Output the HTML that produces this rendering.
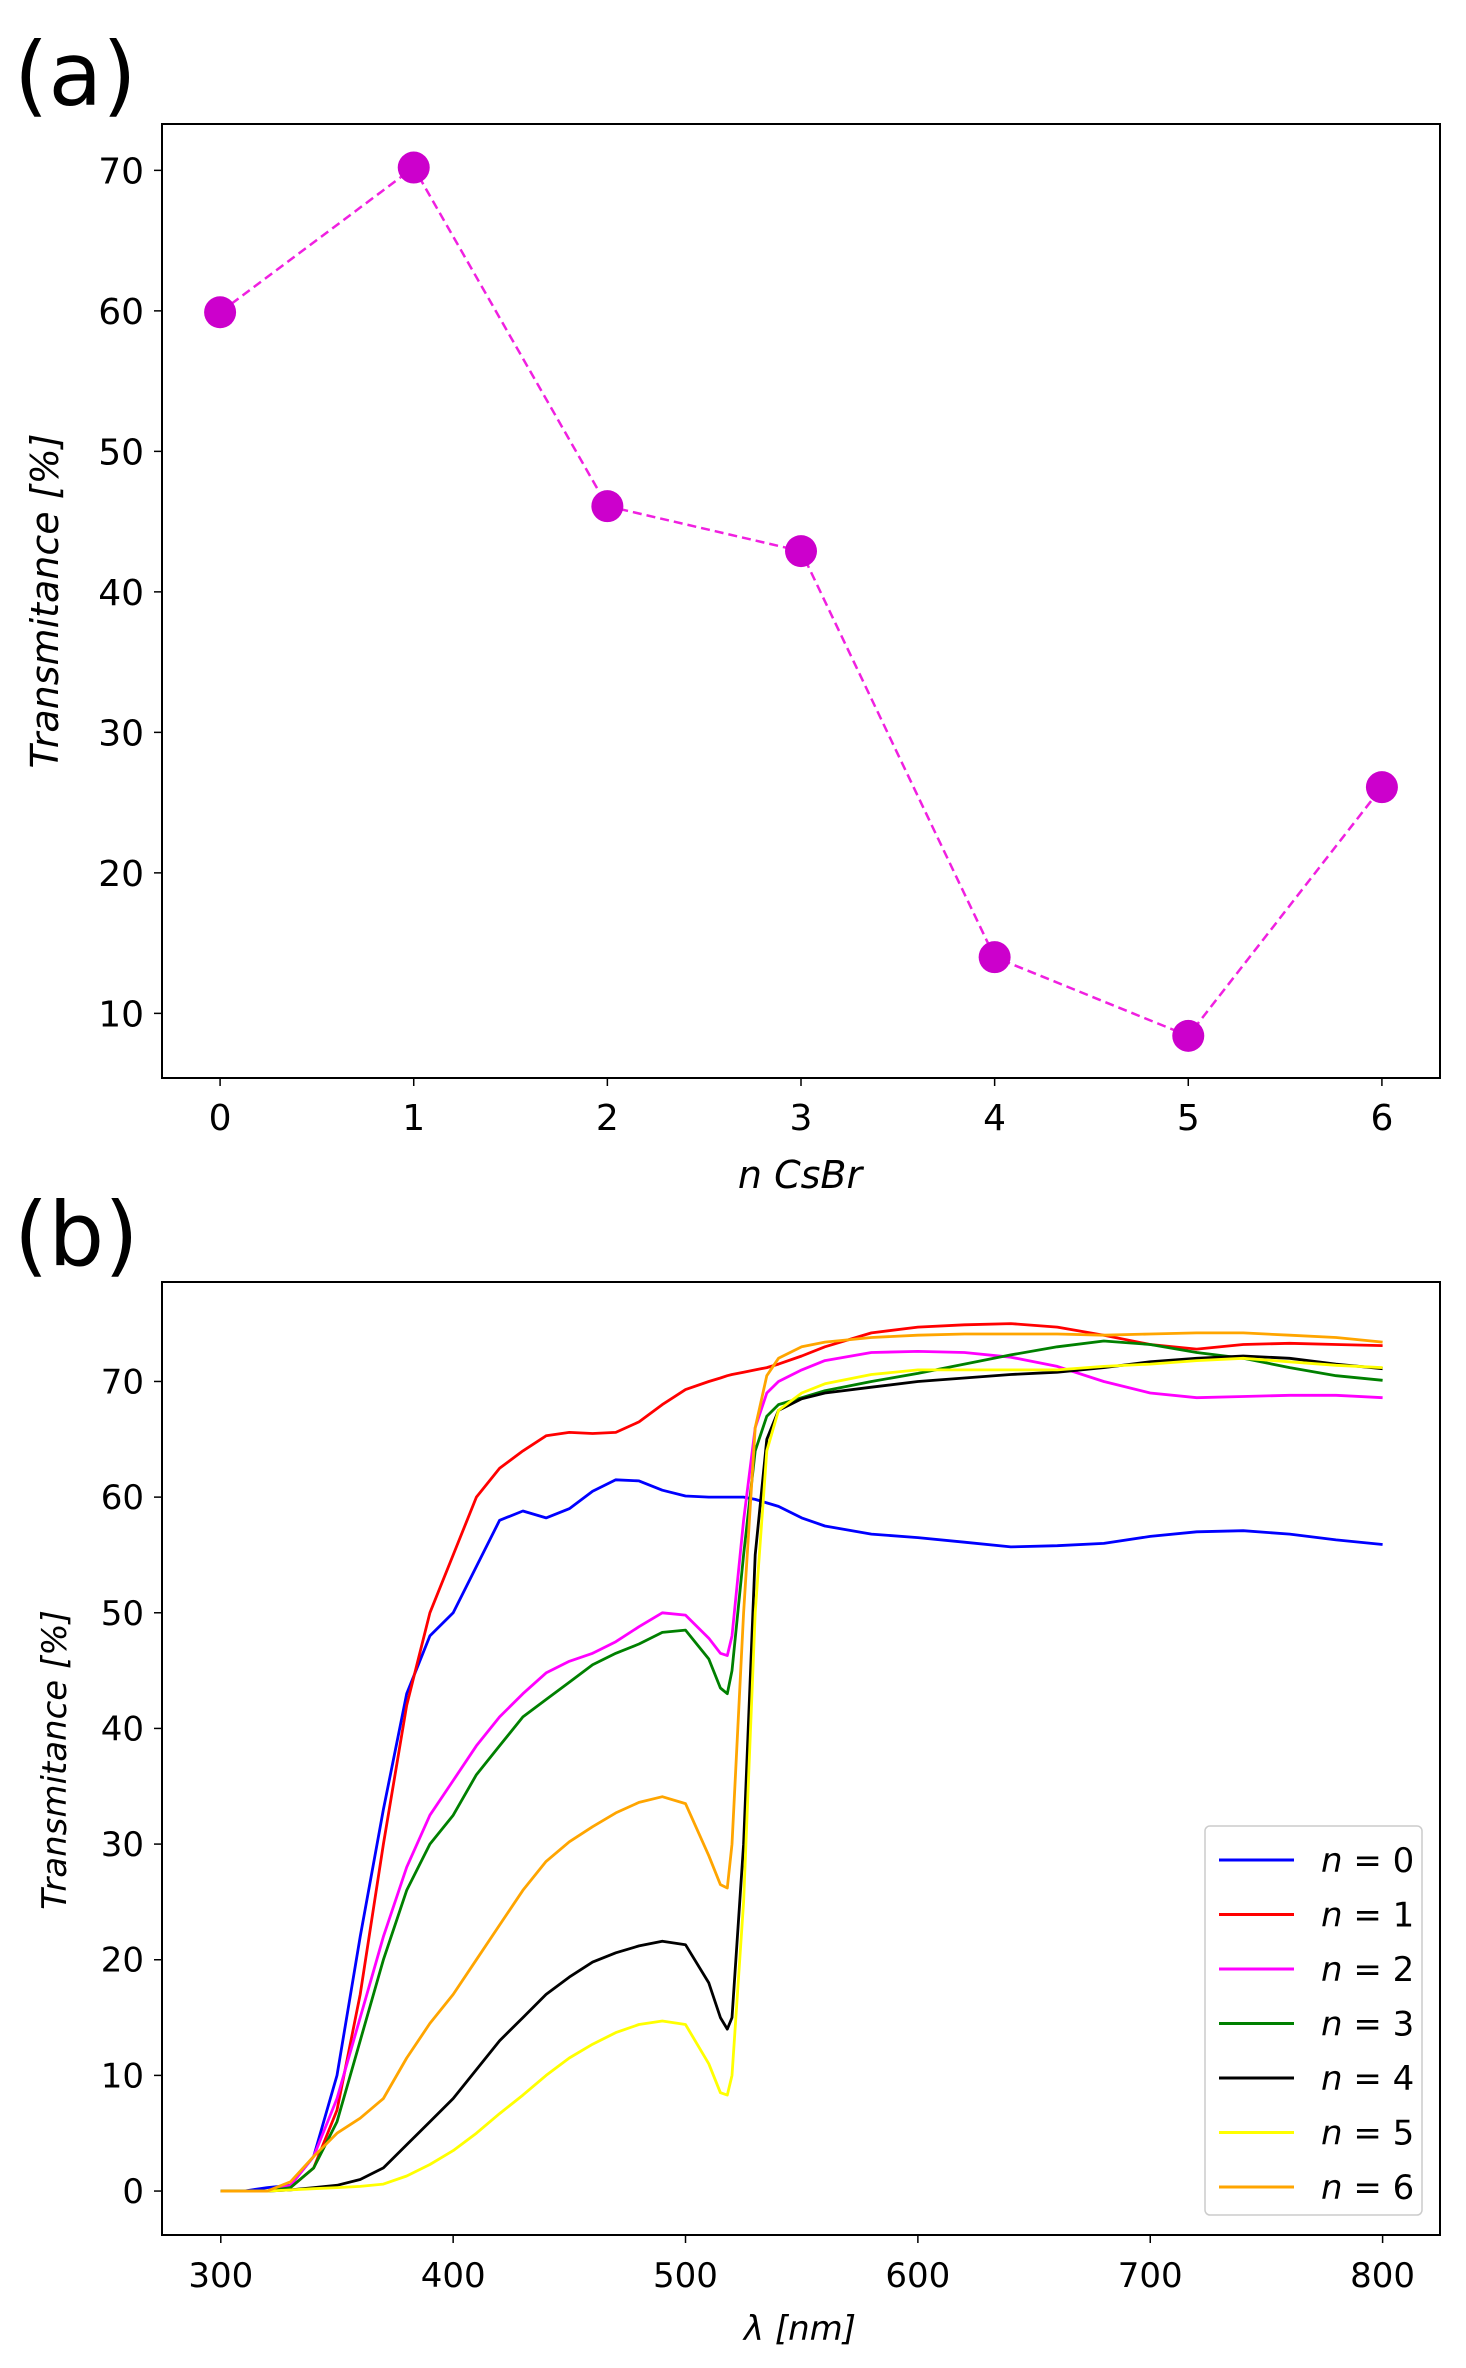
<!DOCTYPE html>
<html><head><meta charset="utf-8"><style>
html,body{margin:0;padding:0;background:#fff}
svg{display:block}
text{font-family:"DejaVu Sans","Liberation Sans",sans-serif;fill:#000}
</style></head><body>
<svg id="fig" width="1466" height="2368" viewBox="0 0 1466 2368" xmlns="http://www.w3.org/2000/svg">
<text x="14" y="105" font-size="88">(a)</text>
<text x="14" y="1265" font-size="88">(b)</text>
<g id="pa"></g>
<g id="pb"></g>
</svg>
<script>
const aCategories=[0,1,2,3,4,5,6];
const aValues=[59.9,70.2,46.1,42.9,14.0,8.4,26.1];
const aYTicks=[10,20,30,40,50,60,70];

const wavelengths=[300,310,320,330,340,350,360,370,380,390,400,410,420,430,440,450,460,470,480,490,500,510,515,518,520,525,530,535,540,550,560,580,600,620,640,660,680,700,720,740,760,780,800];
const tN0=[0,0,0.3,0.5,3,10,22,33,43,48,50,54,58,58.8,58.2,59,60.5,61.5,61.4,60.6,60.1,60,60,60,60,60,59.8,59.5,59.2,58.2,57.5,56.8,56.5,56.1,55.7,55.8,56,56.6,57,57.1,56.8,56.3,55.9];
const tN1=[0,0,0,0.3,2,7,17,30,42,50,55,60,62.5,64,65.3,65.6,65.5,65.6,66.5,68,69.3,70,70.3,70.5,70.6,70.8,71,71.2,71.5,72.2,73,74.2,74.7,74.9,75,74.7,74,73.2,72.8,73.2,73.3,73.2,73.1];
const tN2=[0,0,0,0.5,3,8,15,22,28,32.5,35.5,38.5,41,43,44.8,45.8,46.5,47.5,48.8,50,49.8,47.8,46.5,46.3,48,58,66,69,70,71,71.8,72.5,72.6,72.5,72.1,71.3,70,69,68.6,68.7,68.8,68.8,68.6];
const tN3=[0,0,0,0.3,2,6,13,20,26,30,32.5,36,38.5,41,42.5,44,45.5,46.5,47.3,48.3,48.5,46,43.5,43,45,55,64,67,68,68.6,69.2,70,70.7,71.5,72.3,73,73.5,73.2,72.5,72,71.2,70.5,70.1];
const tN4=[0,0,0,0.1,0.3,0.5,1,2,4,6,8,10.5,13,15,17,18.5,19.8,20.6,21.2,21.6,21.3,18,15,14,15,30,55,65,67.5,68.5,69,69.5,70,70.3,70.6,70.8,71.2,71.7,72,72.2,72,71.5,71.1];
const tN5=[0,0,0,0.1,0.2,0.3,0.4,0.6,1.3,2.3,3.5,5,6.7,8.3,10,11.5,12.7,13.7,14.4,14.7,14.4,11,8.5,8.3,10,25,50,64,67.5,69,69.8,70.6,71,71,71,71,71.3,71.5,71.8,72,71.7,71.4,71.2];
const tN6=[0,0,0,0.8,3,5,6.3,8,11.5,14.5,17,20,23,26,28.5,30.2,31.5,32.7,33.6,34.1,33.5,29,26.5,26.2,30,50,66,70.5,72,73,73.4,73.8,74,74.1,74.1,74.1,74,74.1,74.2,74.2,74,73.8,73.4];
const seriesLabels=["0","1","2","3","4","5","6"];
const bXTicks=[300,400,500,600,700,800];
const bYTicks=[0,10,20,30,40,50,60,70];

const NS="http://www.w3.org/2000/svg";
function mk(parent,tag,attrs,txt){const e=document.createElementNS(NS,tag);for(const k in attrs)e.setAttribute(k,attrs[k]);if(txt!==undefined)e.textContent=txt;parent.appendChild(e);return e;}

// Panel A
const A={l:162,r:1440,t:124,b:1078,x0:-0.3,x1:6.3,y0:5.4,y1:73.3};
const ax=v=>A.l+(v-A.x0)/(A.x1-A.x0)*(A.r-A.l);
const ay=v=>A.b-(v-A.y0)/(A.y1-A.y0)*(A.b-A.t);
const pa=document.getElementById('pa');
aYTicks.forEach(v=>{
 const t=mk(pa,'line',{x1:A.l-8,x2:A.l,y1:ay(v),y2:ay(v),stroke:'#000','stroke-width':1.5});
 
 
 const l=mk(pa,'text',{x:A.l-18,y:ay(v)+13,'font-size':36,'text-anchor':'end'},String(v));
 
 
});
aCategories.forEach(v=>{
 const t=mk(pa,'line',{x1:ax(v),x2:ax(v),y1:A.b,y2:A.b+8,stroke:'#000','stroke-width':1.5});
 
 
 const l=mk(pa,'text',{x:ax(v),y:A.b+52,'font-size':36,'text-anchor':'middle'},String(v));
 
 
});
const la=mk(pa,'polyline',{points:aCategories.map((c,i)=>ax(c)+','+ay(aValues[i])).join(' '),fill:'none',stroke:'#f020e0','stroke-width':2.5,'stroke-dasharray':'9,5'});


aCategories.forEach((c,i)=>{
 const m=mk(pa,'circle',{cx:ax(c),cy:ay(aValues[i]),r:16,fill:'#cc00cc'});
 
 
});
const fa=mk(pa,'rect',{x:A.l,y:A.t,width:A.r-A.l,height:A.b-A.t,fill:'none',stroke:'#000','stroke-width':2});


const xla=mk(pa,'text',{x:800,y:1188,'font-size':38,'text-anchor':'middle','font-style':'italic'},'n  CsBr');


const yla=mk(pa,'text',{x:0,y:0,'font-size':38,'text-anchor':'middle','font-style':'italic',transform:'translate(58,601) rotate(-90)'},'Transmitance  [%]');



// Panel B
const B={l:162,r:1440,t:1282,b:2235,x0:274.7,x1:824.7,y0:-3.8,y1:78.6};
const bx=v=>B.l+(v-B.x0)/(B.x1-B.x0)*(B.r-B.l);
const by=v=>B.b-(v-B.y0)/(B.y1-B.y0)*(B.b-B.t);
const pb=document.getElementById('pb');
bYTicks.forEach(v=>{
 const t=mk(pb,'line',{x1:B.l-8,x2:B.l,y1:by(v),y2:by(v),stroke:'#000','stroke-width':1.5});
 
 
 const l=mk(pb,'text',{x:B.l-18,y:by(v)+12,'font-size':34,'text-anchor':'end'},String(v));
 
 
});
bXTicks.forEach(v=>{
 const t=mk(pb,'line',{x1:bx(v),x2:bx(v),y1:B.b,y2:B.b+8,stroke:'#000','stroke-width':1.5});
 
 
 const l=mk(pb,'text',{x:bx(v),y:B.b+52,'font-size':34,'text-anchor':'middle'},String(v));
 
 
});
const series=[tN0,tN1,tN2,tN3,tN4,tN5,tN6];
const colors=['#0000ff','#ff0000','#ff00ff','#008000','#000000','#ffff00','#ffa500'];
series.forEach((s,k)=>{
 const p=mk(pb,'polyline',{points:wavelengths.map((w,i)=>bx(w).toFixed(1)+','+by(s[i]).toFixed(1)).join(' '),fill:'none',stroke:colors[k],'stroke-width':2.8,'stroke-linejoin':'round'});
 
 
});
const fb=mk(pb,'rect',{x:B.l,y:B.t,width:B.r-B.l,height:B.b-B.t,fill:'none',stroke:'#000','stroke-width':2});


const lg=mk(pb,'rect',{x:1205,y:1826,width:217,height:389,rx:5,fill:'#fff','fill-opacity':0.85,stroke:'#ccc','stroke-width':1.5});


seriesLabels.forEach((s,k)=>{
 const y=1860+k*54.5;
 const ln=mk(pb,'line',{x1:1219,x2:1294,y1:y,y2:y,stroke:colors[k],'stroke-width':3});
 
 
 const t=mk(pb,'text',{x:1321,y:y+12,'font-size':34});
 
 
 mk(t,'tspan',{'font-style':'italic'},'n');
 mk(t,'tspan',{},' = '+s);
});
const xlb=mk(pb,'text',{x:800,y:2340,'font-size':34,'text-anchor':'middle','font-style':'italic'},'λ [nm]');


const ylb=mk(pb,'text',{x:0,y:0,'font-size':34,'text-anchor':'middle','font-style':'italic',transform:'translate(66,1760) rotate(-90)'},'Transmitance  [%]');


</script>
</body></html>
